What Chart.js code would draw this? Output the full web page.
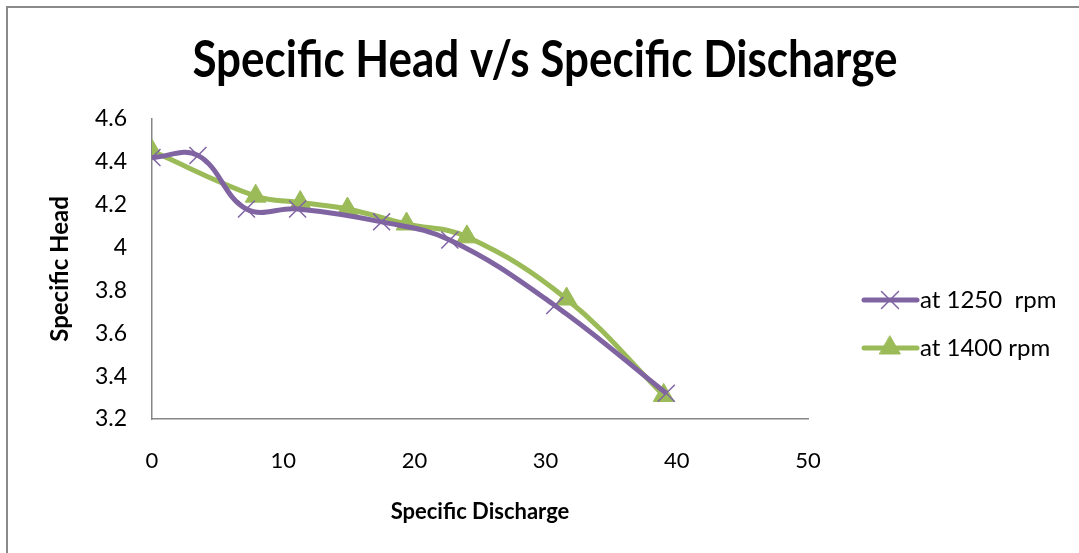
<!DOCTYPE html>
<html>
<head>
<meta charset="utf-8">
<title>Specific Head v/s Specific Discharge</title>
<script src="https://cdn.jsdelivr.net/npm/chart.js@4/dist/chart.umd.min.js"></script>
<style>
  html, body { margin: 0; padding: 0; background: #ffffff; }
  #wrap { position: relative; width: 1079px; height: 553px; }
</style>
</head>
<body>
<div id="wrap"><canvas id="chart" width="1079" height="553"></canvas></div>
<script>
// Specific discharge (x) and specific head (y) for each pump speed
const discharge1250 = [0, 3.5, 7.2, 11.1, 17.5, 22.7, 30.7, 39.2];
const head1250      = [4.42, 4.43, 4.18, 4.18, 4.12, 4.035, 3.73, 3.32];
const discharge1400 = [0, 7.9, 11.3, 14.9, 19.4, 24.0, 31.6, 39.0];
const head1400      = [4.45, 4.24, 4.21, 4.18, 4.11, 4.05, 3.76, 3.31];

const seriesNames = ['at 1250  rpm', 'at 1400 rpm'];
const xTicks = [0, 10, 20, 30, 40, 50];
const yTicks = [3.2, 3.4, 3.6, 3.8, 4, 4.2, 4.4, 4.6];
const yTickLabels = ['3.2', '3.4', '3.6', '3.8', '4', '4.2', '4.4', '4.6'];

const PURPLE = '#8064A2';
const GREEN = '#9BBB59';
const FONT = 'Lato, Carlito, Calibri, sans-serif';

const toPoints = (xs, ys) => xs.map((x, i) => ({ x: x, y: ys[i] }));

// Outer frame, title and the line-with-marker legend
const decorations = {
  id: 'decorations',
  beforeDraw(chart) {
    const ctx = chart.ctx;
    ctx.save();
    ctx.strokeStyle = '#8a8a8a';
    ctx.lineWidth = 2;
    ctx.strokeRect(7, 7, 1200, 700);
    ctx.restore();
  },
  afterDraw(chart) {
    const ctx = chart.ctx;
    ctx.save();
    ctx.fillStyle = '#000000';
    ctx.textAlign = 'center';
    ctx.textBaseline = 'alphabetic';
    ctx.font = 'bold 44px ' + FONT;
    // title glyphs are a little taller than they are wide
    ctx.translate(545, 77);
    ctx.scale(1, 1.18);
    ctx.fillText('Specific Head v/s Specific Discharge', 0, 0);
    ctx.setTransform(1, 0, 0, 1, 0, 0);

    const rows = [300, 348];
    chart.data.datasets.forEach((ds, i) => {
      const y = rows[i];
      ctx.strokeStyle = ds.borderColor;
      ctx.lineWidth = ds.borderWidth;
      ctx.lineCap = 'round';
      ctx.beginPath();
      ctx.moveTo(864, y);
      ctx.lineTo(917, y);
      ctx.stroke();
      ctx.fillStyle = ds.pointBackgroundColor;
      ctx.strokeStyle = ds.pointBorderColor;
      ctx.lineWidth = ds.pointBorderWidth;
      Chart.helpers.drawPoint(ctx, {
        pointStyle: ds.pointStyle,
        radius: ds.pointRadius,
        rotation: 0,
        borderWidth: ds.pointBorderWidth
      }, 890, y);
      ctx.fillStyle = '#000000';
      ctx.font = '24px ' + FONT;
      ctx.textAlign = 'left';
      ctx.textBaseline = 'middle';
      ctx.fillText(ds.label, 920, y);
    });
    ctx.restore();
  }
};

new Chart(document.getElementById('chart'), {
  type: 'scatter',
  data: {
    datasets: [
      {
        label: seriesNames[0],
        data: toPoints(discharge1250, head1250),
        showLine: true,
        borderColor: PURPLE,
        backgroundColor: PURPLE,
        borderWidth: 5,
        tension: 0.4,
        pointStyle: 'crossRot',
        pointRadius: 12,
        pointBorderWidth: 1.5,
        pointBorderColor: PURPLE,
        pointBackgroundColor: PURPLE
      },
      {
        label: seriesNames[1],
        data: toPoints(discharge1400, head1400),
        showLine: true,
        borderColor: GREEN,
        backgroundColor: GREEN,
        borderWidth: 5,
        tension: 0.4,
        pointStyle: 'triangle',
        pointRadius: 12,
        pointBorderWidth: 1,
        pointBorderColor: GREEN,
        pointBackgroundColor: GREEN
      }
    ]
  },
  options: {
    responsive: false,
    animation: false,
    layout: { padding: { top: 119, right: 271, bottom: 0, left: 0 } },
    plugins: {
      legend: { display: false },
      title: { display: false },
      tooltip: { enabled: false }
    },
    scales: {
      x: {
        type: 'linear',
        min: 0,
        max: 50,
        afterBuildTicks: (s) => { s.ticks = xTicks.map(v => ({ value: v })); },
        afterFit: (s) => { s.height = 134; },
        grid: { display: false },
        border: { display: true, color: '#868686', width: 1.5 },
        ticks: { color: '#000000', font: { family: FONT, size: 22 }, padding: 21, maxRotation: 0 },
        title: {
          display: true,
          text: 'Specific Discharge',
          color: '#000000',
          font: { family: FONT, size: 22, weight: 'bold' },
          padding: { top: 0, bottom: 28 }
        }
      },
      y: {
        type: 'linear',
        min: 3.2,
        max: 4.6,
        afterBuildTicks: (s) => { s.ticks = yTicks.map(v => ({ value: v })); },
        afterFit: (s) => { s.width = 152; },
        grid: { display: false },
        border: { display: true, color: '#868686', width: 1.5 },
        ticks: {
          color: '#000000',
          font: { family: FONT, size: 23 },
          padding: 17,
          callback: (value) => {
            const i = yTicks.findIndex(t => Math.abs(t - value) < 1e-6);
            return i >= 0 ? yTickLabels[i] : '';
          }
        },
        title: {
          display: true,
          text: 'Specific Head',
          color: '#000000',
          font: { family: FONT, size: 24, weight: 'bold' },
          padding: { top: 46, bottom: 0 }
        }
      }
    }
  },
  plugins: [decorations]
});
</script>
</body>
</html>
